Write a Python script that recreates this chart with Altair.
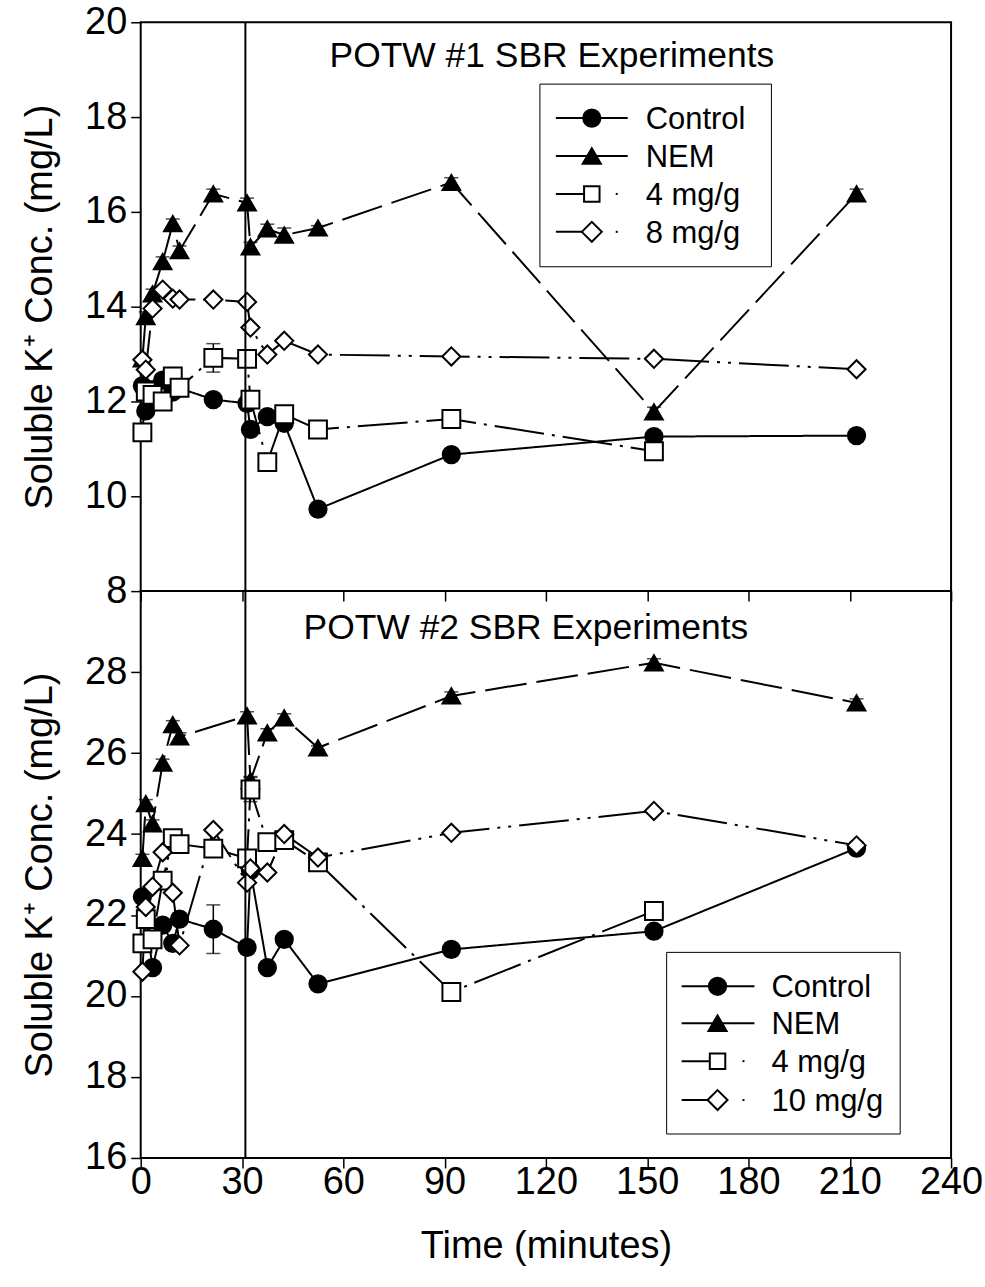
import altair as alt
import pandas as pd

FONT = "Liberation Sans"

# sampling times (minutes) shared by every series
TIME = [0.5, 1.5, 3.5, 6.5, 9.5, 11.5, 21.5, 31.5, 32.5, 37.5, 42.5, 52.5, 92, 152, 212]

# ---- POTW #1 ----
TOP_NAMES = ["Control", "NEM", "4 mg/g", "8 mg/g"]
TOP_CONTROL = [12.33, 11.80, 12.25, 12.45, 12.20, 12.28, 12.04, 11.96, 11.41, 11.68, 11.54, 9.73, 10.88, 11.26, 11.28]
TOP_NEM = [12.90, 13.79, 14.27, 14.95, 15.75, 15.18, 16.38, 16.19, 15.26, 15.64, 15.51, 15.66, 16.62, 11.78, 16.38]
TOP_4 = [11.35, 12.21, 12.14, 12.00, 12.53, 12.29, 12.92, 12.90, 12.04, 10.72, 11.73, 11.41, 11.63, 10.95, None]
TOP_8 = [12.88, 12.67, 13.96, 14.36, 14.17, 14.15, 14.15, 14.10, 13.56, 12.99, 13.28, 12.99, 12.95, 12.90, 12.68]
TOP_CONTROL_ERR = [0, 0, 0, 0, 0, 0, 0, 0, 0, 0, 0, 0, 0, 0, 0]
TOP_NEM_ERR = [0, 0.1, 0.1, 0.1, 0.1, 0.1, 0.1, 0.1, 0.1, 0.1, 0.15, 0.05, 0.1, 0.1, 0.1]
TOP_4_ERR = [0, 0, 0, 0, 0, 0, 0.3, 0, 0, 0, 0, 0, 0, 0, 0]
TOP_8_ERR = [0, 0, 0, 0, 0, 0, 0, 0, 0, 0, 0, 0, 0, 0, 0]

# ---- POTW #2 ----
BOT_NAMES = ["Control", "NEM", "4 mg/g", "10 mg/g"]
BOT_CONTROL = [22.45, 21.95, 20.70, 21.75, 21.30, 21.90, 21.65, 21.20, 23.10, 20.70, 21.40, 20.30, 21.15, 21.60, 23.65]
BOT_NEM = [23.40, 24.75, 24.25, 25.75, 26.70, 26.40, None, 26.92, 25.32, 26.50, 26.87, 26.13, 27.41, 28.23, 27.24]
BOT_4 = [21.30, 21.90, 21.40, 22.85, 23.90, 23.75, 23.64, 23.40, 25.10, 23.80, 23.85, 23.30, 20.10, 22.10, None]
BOT_10 = [20.60, 22.20, 22.70, 23.55, 22.55, 21.25, 24.10, 22.80, 23.15, 23.05, 24.00, 23.42, 24.03, 24.57, 23.72]
BOT_CONTROL_ERR = [0, 0, 0, 0, 0, 0, 0.6, 0, 0, 0, 0, 0, 0.15, 0.1, 0]
BOT_NEM_ERR = [0.1, 0.1, 0.1, 0.1, 0.1, 0.1, 0, 0.1, 0.1, 0.1, 0.1, 0.05, 0.1, 0.1, 0.1]
BOT_4_ERR = [0, 0, 0, 0, 0, 0, 0, 0, 0.3, 0, 0, 0, 0, 0, 0]
BOT_10_ERR = [0, 0, 0, 0, 0, 0, 0, 0, 0, 0, 0, 0, 0, 0, 0]

X_TICKS = list(range(0, 241, 30))
TOP_Y_TICKS = list(range(8, 21, 2))
BOT_Y_TICKS = list(range(16, 29, 2))

# marker / line style per series slot (same slots in both panels)
KEYS = ["s0", "s1", "s2", "s3"]
SHAPES = ["circle", "triangle-up", "square", "diamond"]
FILLS = ["black", "black", "white", "white"]
SIZES = [300, 330, 240, 400]
DASHES = [[1, 0], [42, 10], [50, 8, 3, 8], [50, 8, 3, 8, 3, 8]]

WIDTH = 812
TOP_H = 570
BOT_H = 568
Y_TITLE = "Soluble K\u207a Conc. (mg/L)"


def frame(series, errors):
    rows = []
    for key, vals, errs in zip(KEYS, series, errors):
        for t, v, e in zip(TIME, vals, errs):
            if v is None:
                continue
            rows.append({"k": key, "t": t, "v": v, "lo": v - e, "hi": v + e, "err": e})
    return pd.DataFrame(rows)


def one():
    return alt.Data(values=[{"n": 1}])


def legend_layers(names, box, rows_y, x0, xm, x1, xt):
    bx0, bx1, by0, by1 = box
    layers = [
        alt.Chart(one()).mark_rect(fill="white", stroke="black", strokeWidth=1).encode(
            x=alt.value(bx0), x2=alt.value(bx1), y=alt.value(by0), y2=alt.value(by1)
        )
    ]
    for i, (name, yy) in enumerate(zip(names, rows_y)):
        layers.append(
            alt.Chart(one()).mark_rule(color="black", strokeWidth=2).encode(
                x=alt.value(x0), x2=alt.value(xm), y=alt.value(yy)
            )
        )
        if i < 2:
            layers.append(
                alt.Chart(one()).mark_rule(color="black", strokeWidth=2).encode(
                    x=alt.value(xm), x2=alt.value(x1), y=alt.value(yy)
                )
            )
        else:
            layers.append(
                alt.Chart(one()).mark_rule(color="black", strokeWidth=2).encode(
                    x=alt.value(x1 - 12), x2=alt.value(x1 - 10), y=alt.value(yy)
                )
            )
        layers.append(
            alt.Chart(one()).mark_point(
                shape=SHAPES[i], fill=FILLS[i], stroke="black", strokeWidth=2,
                size=SIZES[i], opacity=1, filled=True
            ).encode(x=alt.value(xm), y=alt.value(yy))
        )
        layers.append(
            alt.Chart(one()).mark_text(
                font=FONT, fontSize=31, align="left", baseline="alphabetic", color="black"
            ).encode(x=alt.value(xt), y=alt.value(yy + 11), text=alt.value(name))
        )
    return layers


def panel(names, series, errors, ydom, yticks, height, bottom, title, title_xy, legend):
    df = frame(series, errors)
    if bottom:
        xaxis = alt.Axis(values=X_TICKS, labels=True, title="Time (minutes)",
                         titleX=WIDTH / 2, titleY=89, titleBaseline="middle",
                         titleAlign="center", labelPadding=-4, labelFlush=False,
                         labelOverlap=False)
    else:
        xaxis = alt.Axis(values=X_TICKS, labels=False, title=None)
    x = alt.X("t:Q", scale=alt.Scale(domain=[0, 240], nice=False, zero=False), axis=xaxis)
    y = alt.Y("v:Q", scale=alt.Scale(domain=ydom, nice=False, zero=False),
              axis=alt.Axis(values=yticks, title=Y_TITLE, titleX=-100, titleY=height / 2,
                            titleAngle=270, titleAlign="center", titleBaseline="middle",
                            labelFlush=False, labelOverlap=False))
    base = alt.Chart(df)

    lines = base.mark_line(color="black", strokeWidth=2).encode(
        x=x, y=y,
        strokeDash=alt.StrokeDash("k:N", scale=alt.Scale(domain=KEYS, range=DASHES), legend=None),
        detail="k:N",
        order="t:Q",
    )
    err = base.transform_filter("datum.err > 0")
    bars = err.mark_rule(color="black", strokeWidth=1.5).encode(x="t:Q", y="lo:Q", y2="hi:Q")
    caps_lo = err.mark_tick(color="black", orient="horizontal", size=14, thickness=1.5).encode(x="t:Q", y="lo:Q")
    caps_hi = err.mark_tick(color="black", orient="horizontal", size=14, thickness=1.5).encode(x="t:Q", y="hi:Q")
    points = base.mark_point(filled=True, stroke="black", strokeWidth=2, opacity=1).encode(
        x="t:Q", y="v:Q",
        shape=alt.Shape("k:N", scale=alt.Scale(domain=KEYS, range=SHAPES), legend=None),
        fill=alt.Fill("k:N", scale=alt.Scale(domain=KEYS, range=FILLS), legend=None),
        size=alt.Size("k:N", scale=alt.Scale(domain=KEYS, range=SIZES), legend=None),
    )
    vline = alt.Chart(one()).mark_rule(color="black", strokeWidth=2).encode(x=alt.datum(31))
    heading = alt.Chart(one()).mark_text(
        font=FONT, fontSize=35.5, align="center", baseline="alphabetic", color="black"
    ).encode(x=alt.value(title_xy[0]), y=alt.value(title_xy[1]), text=alt.value(title))

    layers = [lines, bars, caps_lo, caps_hi, points, vline, heading] + legend_layers(names, *legend)
    return alt.layer(*layers).properties(width=WIDTH, height=height)


top = panel(
    TOP_NAMES, [TOP_CONTROL, TOP_NEM, TOP_4, TOP_8],
    [TOP_CONTROL_ERR, TOP_NEM_ERR, TOP_4_ERR, TOP_8_ERR],
    [8, 20], TOP_Y_TICKS, TOP_H, False, "POTW #1 SBR Experiments", (412, 45),
    ((400, 632, 62, 245), [96, 134, 172, 210], 416, 452, 488, 506),
)
bottom = panel(
    BOT_NAMES, [BOT_CONTROL, BOT_NEM, BOT_4, BOT_10],
    [BOT_CONTROL_ERR, BOT_NEM_ERR, BOT_4_ERR, BOT_10_ERR],
    [16, 30], BOT_Y_TICKS, BOT_H, True, "POTW #2 SBR Experiments", (386, 48),
    ((527, 761, 362, 544), [396, 433, 471, 510], 542, 578, 615, 632),
)

chart = alt.vconcat(top, bottom, spacing=0, bounds="flush").properties(
    padding={"left": 21, "top": 1, "right": 1, "bottom": 21},
).configure_view(
    stroke="black", strokeWidth=2
).configure_axis(
    domain=False, grid=False, tickColor="black", tickWidth=1.5, tickSize=10,
    labelFont=FONT, labelFontSize=38, labelColor="black", labelPadding=4,
    titleFont=FONT, titleFontSize=38, titleFontWeight="normal", titleColor="black",
)

chart.save("out.html", embed_options={"renderer": "svg", "actions": False})
